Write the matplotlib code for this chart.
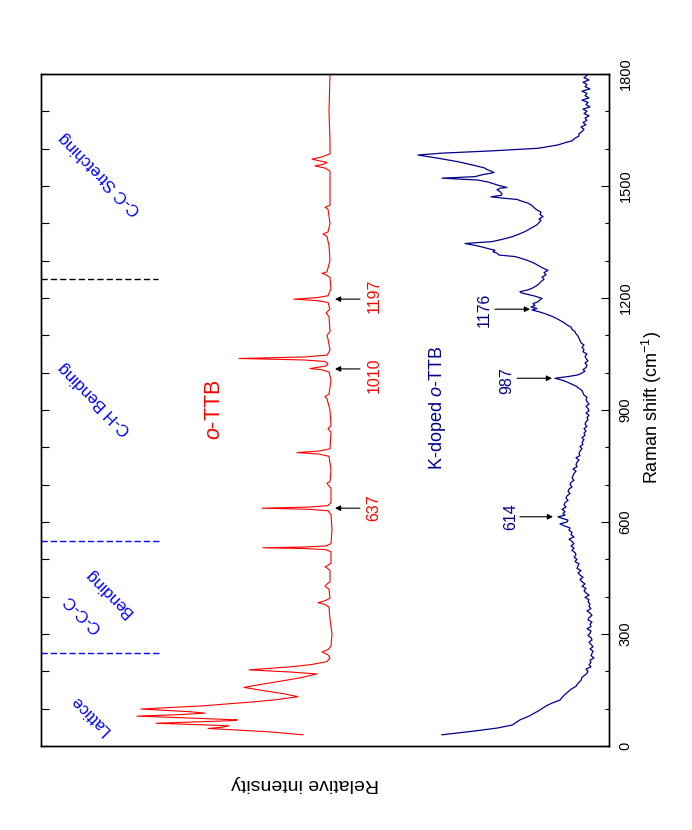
import matplotlib
matplotlib.use("Agg")
import matplotlib.pyplot as plt
from matplotlib.ticker import MultipleLocator

plt.rcParams['font.family'] = ['Liberation Sans', 'DejaVu Sans']
plt.rcParams['mathtext.fontset'] = 'custom'
plt.rcParams['mathtext.rm'] = 'Liberation Sans'
plt.rcParams['mathtext.it'] = 'Liberation Sans:italic'

# ---------------- data (Raman shift in cm-1, relative intensity in a.u.) ----------------
red_shift = [30, 38, 44, 47, 50, 54, 57, 61, 64, 68, 70, 74, 80, 84, 88, 92, 99, 103, 107, 113,
             119, 125, 132, 140, 148, 157, 164, 172, 182, 193, 198, 204, 208, 212, 218, 226, 236,
             244, 252, 258, 268, 300, 340, 372, 379, 384, 389, 396, 420, 428, 434, 440, 470, 477,
             480, 484, 490, 520, 526, 529, 531, 533, 536, 542, 580, 620, 630, 634, 637, 640, 644,
             652, 690, 700, 704, 708, 740, 776, 782, 786, 790, 796, 840, 850, 858, 900, 930, 936,
             942, 980, 1002, 1008, 1011, 1014, 1018, 1024, 1030, 1034, 1038, 1042, 1047, 1060,
             1090, 1100, 1110, 1150, 1160, 1170, 1188, 1193, 1197, 1201, 1206, 1225, 1255, 1262,
             1266, 1270, 1300, 1340, 1365, 1371, 1377, 1400, 1438, 1443, 1448, 1500, 1540, 1548,
             1554, 1558, 1563, 1567, 1572, 1578, 1586, 1620, 1700, 1800]
red_int = [306, 340, 380, 401, 388, 380, 410, 453, 420, 376, 372, 410, 472, 430, 404, 420, 468, 440,
           409, 380, 352, 330, 311, 325, 345, 365, 350, 332, 310, 292, 318, 360, 340, 319, 298, 282,
           279, 281, 287, 281, 278, 277, 279, 280, 284, 291, 284, 279, 280, 284, 282, 279, 279, 282,
           284, 281, 278, 278, 283, 305, 346, 305, 283, 278, 277, 278, 281, 300, 347, 300, 281, 278,
           278, 281, 282, 279, 278, 280, 290, 312, 290, 279, 278, 281, 278, 279, 282, 284, 280, 278,
           280, 288, 299, 292, 283, 281, 284, 305, 370, 305, 282, 279, 281, 282, 279, 280, 283, 279,
           281, 292, 315, 292, 281, 278, 279, 283, 287, 282, 279, 280, 282, 286, 281, 279, 281, 284,
           279, 279, 279, 284, 294, 286, 282, 289, 297, 287, 279, 279, 280, 279]

blue_shift = [30, 40, 48, 56, 63, 70, 80, 89, 95, 102, 110, 116, 123, 130, 138, 145, 152, 160, 168,
              176, 184, 190, 195, 200, 206, 212, 218, 224, 230, 236, 242, 248, 254, 260, 266, 272,
              278, 284, 290, 296, 302, 308, 314, 320, 326, 332, 338, 344, 350, 356, 362, 368, 374,
              380, 386, 392, 398, 404, 410, 416, 422, 428, 434, 440, 446, 452, 458, 464, 470, 476,
              482, 488, 494, 500, 506, 512, 518, 524, 530, 536, 542, 548, 554, 560, 566, 572, 578,
              584, 590, 595, 600, 605, 610, 614, 618, 622, 628, 634, 640, 646, 652, 658, 664, 670,
              676, 682, 688, 694, 700, 706, 712, 718, 724, 730, 736, 742, 748, 754, 760, 766, 772,
              778, 784, 790, 796, 802, 808, 814, 820, 826, 832, 838, 844, 850, 856, 862, 868, 874,
              880, 886, 892, 898, 904, 910, 916, 922, 928, 934, 940, 946, 952, 958, 964, 970, 975,
              980, 985, 990, 994, 999, 1004, 1008, 1014, 1020, 1026, 1032, 1038, 1044, 1050, 1056,
              1062, 1068, 1074, 1080, 1086, 1092, 1098, 1104, 1110, 1116, 1122, 1128, 1134, 1140,
              1146, 1152, 1158, 1163, 1168, 1172, 1176, 1180, 1185, 1190, 1195, 1199, 1205, 1210,
              1214, 1217, 1221, 1226, 1232, 1238, 1244, 1250, 1256, 1262, 1268, 1274, 1280, 1286,
              1292, 1297, 1303, 1308, 1311, 1315, 1320, 1324, 1328, 1331, 1336, 1341, 1346, 1351,
              1357, 1364, 1370, 1378, 1384, 1390, 1396, 1402, 1408, 1412, 1418, 1424, 1430, 1436,
              1442, 1448, 1454, 1460, 1464, 1467, 1471, 1475, 1479, 1485, 1490, 1494, 1496, 1500,
              1503, 1510, 1516, 1521, 1525, 1530, 1536, 1539, 1544, 1548, 1556, 1565, 1574, 1583,
              1588, 1594, 1601, 1606, 1610, 1616, 1621, 1628, 1634, 1640, 1646, 1652, 1658, 1664,
              1670, 1676, 1682, 1688, 1694, 1700, 1706, 1712, 1718, 1724, 1730, 1736, 1742, 1748,
              1754, 1760, 1766, 1772, 1778, 1784, 1790, 1796, 1800]
blue_int = [167, 135, 112, 97, 93, 89, 80, 74, 70, 66, 61, 56, 49, 47, 44, 41, 38, 33, 31, 28, 27,
            24, 22, 21, 23, 18, 20, 18, 19, 15, 18, 17, 16, 19, 16, 18, 20, 17, 18, 21, 19, 18, 22,
            18, 19, 17, 21, 20, 17, 19, 22, 18, 20, 19, 21, 20, 24, 20, 23, 25, 23, 27, 24, 27, 29,
            26, 29, 31, 28, 32, 31, 30, 34, 32, 35, 33, 34, 37, 35, 38, 35, 37, 40, 35, 38, 37, 40,
            39, 45, 49, 42, 41, 47, 51, 44, 46, 44, 47, 43, 45, 44, 41, 43, 42, 39, 41, 40, 37, 39,
            38, 35, 37, 36, 35, 33, 36, 32, 33, 32, 30, 33, 29, 30, 29, 27, 29, 26, 27, 25, 27, 24,
            25, 23, 25, 22, 24, 23, 21, 22, 20, 23, 20, 21, 23, 20, 22, 23, 22, 25, 26, 27, 30, 33,
            38, 42, 47, 54, 40, 31, 27, 24, 26, 23, 22, 24, 21, 23, 24, 22, 26, 25, 27, 25, 28, 29,
            30, 31, 33, 34, 37, 38, 42, 45, 49, 53, 58, 64, 70, 77, 72, 78, 74, 76, 71, 69, 67, 74,
            82, 88, 89, 82, 77, 73, 70, 68, 65, 67, 63, 65, 61, 66, 70, 74, 78, 84, 90, 94, 110, 112,
            116, 114, 119, 126, 134, 144, 117, 107, 97, 91, 84, 80, 76, 72, 70, 68, 70, 66, 69, 68,
            72, 75, 77, 81, 88, 92, 104, 118, 108, 107, 109, 112, 109, 102, 108, 112, 120, 131, 167,
            134, 127, 115, 117, 122, 124, 136, 151, 170, 191, 167, 118, 71, 60, 51, 44, 37, 34, 30,
            30, 27, 25, 28, 23, 26, 22, 24, 20, 25, 22, 26, 19, 23, 21, 27, 20, 24, 22, 27, 19, 24,
            22, 26, 20, 25, 22, 23]

# band-region boundaries (cm-1) and labels
band_lines_blue = [250, 550]
band_line_black = [1250]
band_labels = ["Lattice", "C-C-C", "Bending", "C-H Bending", "C-C Stretching"]
band_label_shift = [83, 354, 412, 932, 1532]
band_label_int = [519, 527, 500, 514, 509]

# marked peaks
red_marks = [637, 1010, 1197]
red_mark_labels = ["637", "1010", "1197"]
red_label_shift = [637, 992, 1207]
blue_marks = [614, 985, 1170]
blue_mark_labels = ["614", "987", "1176"]
blue_label_shift = [614, 978, 1168]

yticks = [0, 300, 600, 900, 1200, 1500, 1800]

# ---------------- figure ----------------
RED = '#ff0000'
NAVY = '#00008b'
BLUE = '#0000ff'

fig = plt.figure(figsize=(6.92, 8.30), dpi=100)
ax = fig.add_axes([41/692, 84/830, 568/692, 672/830])
ax.set_xlim(568, 0)
ax.set_ylim(0, 1800)

ax.plot(red_int, red_shift, color=RED, lw=0.8)
ax.plot(blue_int, blue_shift, color=NAVY, lw=0.9)

for s in band_lines_blue:
    ax.plot([568, 449], [s, s], color=BLUE, lw=1.0, dashes=(4.5, 2.2))
for s in band_line_black:
    ax.plot([568, 451], [s, s], color='black', lw=1.0, dashes=(4.5, 2.2))

for t, s, i in zip(band_labels, band_label_shift, band_label_int):
    ax.text(i, s, t, rotation=135, color=BLUE, fontsize=12, ha='center', va='center')

ax.text(394, 900, r'$\mathit{o}$-TTB', rotation=90, color=RED, fontsize=15.5,
        ha='center', va='center')
ax.text(171, 905, r'K-doped $\mathit{o}$-TTB', rotation=90, color=NAVY, fontsize=13,
        ha='center', va='center')

arrow_kw = dict(arrowstyle='-|>', color='black', lw=0.8, mutation_scale=8,
                shrinkA=0, shrinkB=0)
for m, lab, ls in zip(red_marks, red_mark_labels, red_label_shift):
    ax.annotate('', xy=(274, m), xytext=(249, m), arrowprops=arrow_kw)
    ax.text(235, ls, lab, rotation=90, color=RED, fontsize=11.5, ha='center', va='center')
blue_text_int = [98, 102, 125]
blue_tail = [89, 92, 114]
blue_head = [56, 57, 79]
for m, lab, ls, ti, tl, hd in zip(blue_marks, blue_mark_labels, blue_label_shift,
                                  blue_text_int, blue_tail, blue_head):
    ax.annotate('', xy=(hd, m), xytext=(tl, m), arrowprops=arrow_kw)
    ax.text(ti, ls, lab, rotation=90, color=NAVY, fontsize=11.5, ha='center', va='center')

# axes styling
ax.set_xticks([])
ax.yaxis.set_major_locator(MultipleLocator(100))
ax.tick_params(axis='y', which='both', direction='in', length=6, width=0.8,
               left=True, right=False, labelleft=False)
for sp in ax.spines.values():
    sp.set_linewidth(1.0)
    sp.set_color('black')

ax2 = ax.twinx()
ax2.set_ylim(0, 1800)
ax2.set_yticks(yticks)
ax2.set_yticklabels([str(v) for v in yticks])
ax2.yaxis.set_minor_locator(MultipleLocator(100))
ax2.tick_params(axis='y', which='major', direction='in', length=6, width=0.8,
                labelsize=10.5, labelrotation=90, pad=7)
ax2.tick_params(axis='y', which='minor', direction='in', length=3, width=0.8)
for lab in ax2.get_yticklabels():
    lab.set_va('center')
for sp in ax2.spines.values():
    sp.set_linewidth(1.0)
    sp.set_color('black')

fig.text(652/692, 1 - 408/830, r'Raman shift (cm$^{-1}$)', rotation=90, fontsize=13,
         ha='center', va='center')
fig.text(305/692, 1 - 783/830, 'Relative intensity', rotation=180, fontsize=14,
         ha='center', va='center')

fig.savefig('out.png', dpi=100)
